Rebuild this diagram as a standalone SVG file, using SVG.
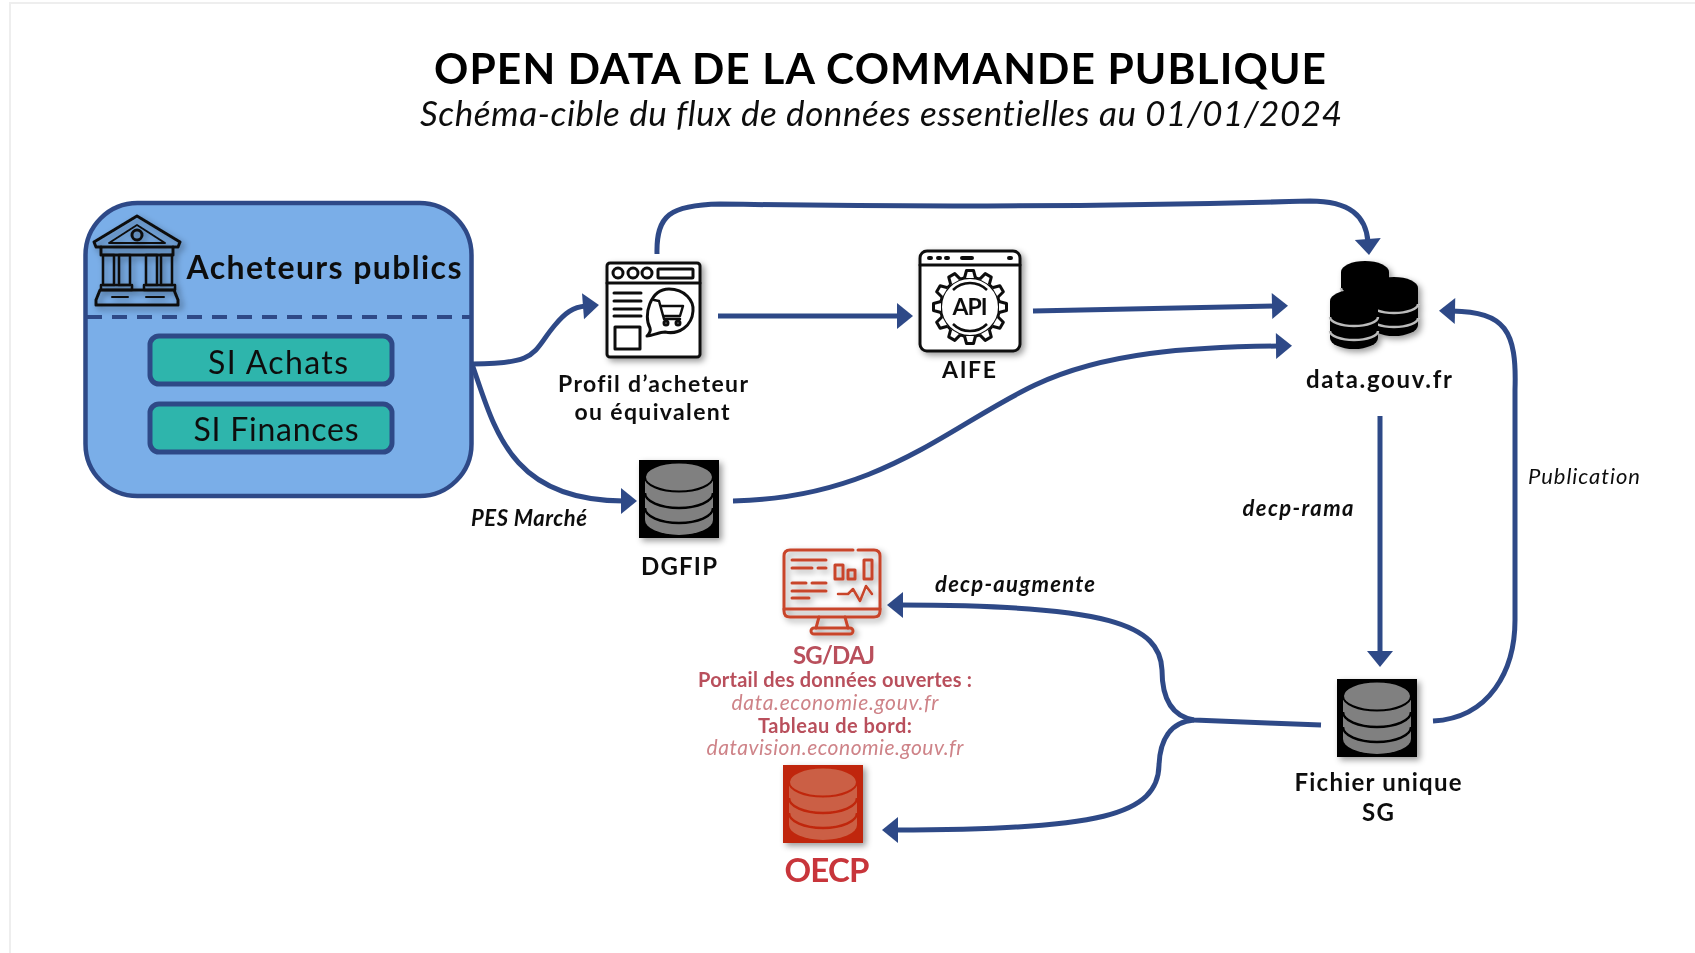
<svg xmlns="http://www.w3.org/2000/svg" width="1695" height="953" viewBox="0 0 1695 953">
<style>
text{font-family:"Lato","Liberation Sans",sans-serif;fill:#111;text-anchor:middle;font-variant-ligatures:none}
.b{font-weight:700}.i{font-style:italic}
.conn{fill:none;stroke:#2F4A87;stroke-width:5}
.ico{fill:none;stroke:#111;stroke-width:3;stroke-linejoin:round;stroke-linecap:round}
.red{fill:none;stroke:#C8452C;stroke-width:3;stroke-linejoin:round;stroke-linecap:round}
.si{fill:#2FB5AC;stroke:#2F4A87;stroke-width:5}
.rd{fill:#B9505C}.rl{fill:#CE8388}
</style>
<defs>
<marker id="arr" markerUnits="userSpaceOnUse" markerWidth="30" markerHeight="30" refX="3" refY="15" orient="auto" overflow="visible"><path d="M0 2L16 15L0 28Z" fill="#2F4A87"/></marker>
<filter id="sh" x="-20%" y="-20%" width="150%" height="150%"><feDropShadow dx="3" dy="3" stdDeviation="3" flood-color="#000" flood-opacity=".4"/></filter>
<filter id="soft" filterUnits="userSpaceOnUse" x="0" y="0" width="1695" height="953"><feGaussianBlur stdDeviation=".55"/></filter>
<symbol id="db" viewBox="0 0 80 78" width="80" height="78" overflow="visible">
<rect width="80" height="78" style="fill:var(--bg)"/>
<path d="M6 17V60A34 15 0 0 0 74 60V17Z" style="fill:var(--fg)"/>
<ellipse cx="40" cy="17" rx="34" ry="14.500" style="fill:var(--fg);stroke:var(--bg)" stroke-width="2"/>
<path d="M6 33A34 15 0 0 0 74 33M6 48A34 15 0 0 0 74 48" fill="none" style="stroke:var(--bg)" stroke-width="2.500"/>
</symbol>
<symbol id="cyl" viewBox="0 0 50 60" width="50" height="60" overflow="visible">
<path d="M1 11V48A24 11 0 0 0 49 48V11Z" fill="#000"/>
<ellipse cx="25" cy="11" rx="24" ry="11" fill="#000"/>
<path d="M1 27A24 9 0 0 0 49 27M1 41A24 9 0 0 0 49 41" fill="none" stroke="#bbb" stroke-width="2.500"/>
</symbol>
<path id="tooth" d="M-5.500 -29L-3.500 -36.500H3.500L5.500 -29" fill="#fff" stroke="#111" stroke-width="3" stroke-linejoin="round"/>
</defs>
<rect width="1695" height="953" fill="#fff"/>
<g filter="url(#soft)">
<path d="M10 953V3H1695" fill="none" stroke="#eee" stroke-width="2"/>

<g id="title">
<text class="b" x="880" y="84" font-size="42.500" style="fill:#000" textLength="892">OPEN DATA DE LA COMMANDE PUBLIQUE</text>
<text class="i" x="881" y="126" font-size="35" textLength="922">Schéma-cible du flux de données essentielles au 01/01/2024</text>
</g>

<g id="connectors">
<path class="conn" marker-end="url(#arr)" d="M472 364C540 364 532 352 555 325C565 313 573 307 586 306"/>
<path class="conn" marker-end="url(#arr)" d="M472 364C495 430 510 501 624 501"/>
<path class="conn" marker-end="url(#arr)" d="M718 316H900"/>
<path class="conn" marker-end="url(#arr)" d="M1033 311L1275 306"/>
<path class="conn" marker-end="url(#arr)" d="M733 501C880 498 950 425 1035 385C1105 352 1190 347 1279 346"/>
<path class="conn" marker-end="url(#arr)" d="M657 254C656 215 670 205 720 204C900 207 1100 207 1310 201C1350 201 1366 216 1368 242"/>
<path class="conn" marker-end="url(#arr)" d="M1380 416V654"/>
<path class="conn" marker-end="url(#arr)" d="M1433 721C1490 718 1515 670 1515 620V390C1517 330 1505 312 1452 311"/>
<path class="conn" marker-end="url(#arr)" d="M1321 725L1194 720C1170 716 1162 695 1162 670C1160 625 1110 605 900 605"/>
<path class="conn" marker-end="url(#arr)" d="M1194 720C1170 722 1160 740 1159 765C1158 815 1100 830 895 830"/>
</g>

<g id="acheteurs">
<rect x="85.500" y="203" width="386" height="293" rx="52" fill="#7AAEE8" stroke="#2F4A87" stroke-width="4.500"/>
<path d="M87 317H470" stroke="#2F4A87" stroke-width="4" stroke-dasharray="15 10" fill="none"/>
<g class="ico" filter="url(#sh)">
<path d="M137 216L94 242L96 247H178L180 242Z"/>
<path d="M137 225L109 243H165Z" stroke-width="2"/>
<circle cx="137" cy="235" r="5"/>
<path d="M101 247V255H173V247"/>
<path d="M103 255H114V285H103ZM119 255H130V285H119ZM146 255H157V285H146ZM161 255H172V285H161Z" stroke-width="2.500"/>
<path d="M101 285H132V290H101ZM144 285H175V290H144Z" stroke-width="2.500"/>
<path d="M100 290H174L178 300V305H96V300Z"/>
<path d="M112 297H128M146 297H164" stroke-width="2"/>
</g>
<text class="b" x="324" y="279" font-size="32" textLength="275">Acheteurs publics</text>
</g>
<g id="si-achats">
<rect class="si" x="150" y="336" width="242" height="48" rx="9"/>
<text x="278" y="374" font-size="32" textLength="140">SI Achats</text>
</g>
<g id="si-finances">
<rect class="si" x="150" y="404" width="242" height="48" rx="9"/>
<text x="276" y="441" font-size="32" textLength="165">SI Finances</text>
</g>

<g id="profil">
<g class="ico" filter="url(#sh)">
<rect x="607" y="263" width="93" height="94" rx="3" fill="#fff"/>
<path d="M607 283H700"/>
<circle cx="618" cy="273" r="5"/><circle cx="633" cy="273" r="5"/><circle cx="647" cy="273" r="5"/>
<rect x="658" y="269" width="35" height="9" rx="1"/>
<path d="M614 293H641M614 301H641M614 309H641M614 316H641"/>
<rect x="615" y="327" width="25" height="22"/>
<path d="M647 336C650 333 651 331 650 328C643 316 650 289 669 289C685 289 694 301 693 311C692 326 679 335 665 332C659 332 652 336 647 336Z"/>
<path d="M654 300L659 301L664 319H680M661 306H683L680 316H664" stroke-width="2.500"/>
<circle cx="666" cy="323" r="2"/><circle cx="678" cy="323" r="2"/>
</g>
<text class="b" x="653" y="392" font-size="23" textLength="190">Profil d’acheteur</text>
<text class="b" x="652" y="420" font-size="23" textLength="155">ou équivalent</text>
</g>

<g id="aife">
<g class="ico" filter="url(#sh)">
<rect x="920" y="251" width="100" height="100" rx="7" fill="#fff"/>
<path d="M920 265H1020"/>
<path d="M929 258H931M938 258H940M946 258H948M962 258H972M1009 258H1011" stroke-width="4"/>
</g>
<g transform="translate(970 307)">
<circle r="29.500" fill="#fff" stroke="#111" stroke-width="3"/>
<use href="#tooth"/>
<use href="#tooth" transform="rotate(30)"/><use href="#tooth" transform="rotate(60)"/><use href="#tooth" transform="rotate(90)"/>
<use href="#tooth" transform="rotate(120)"/><use href="#tooth" transform="rotate(150)"/><use href="#tooth" transform="rotate(180)"/>
<use href="#tooth" transform="rotate(210)"/><use href="#tooth" transform="rotate(240)"/><use href="#tooth" transform="rotate(270)"/>
<use href="#tooth" transform="rotate(300)"/><use href="#tooth" transform="rotate(330)"/>
<path d="M-17 -17A24 24 0 0 1 17 -17M-17 17A24 24 0 0 0 17 17" fill="none" stroke="#111" stroke-width="2.500"/>
</g>
<text class="b" x="970" y="315" font-size="23" textLength="35">API</text>
<text class="b" x="969" y="378" font-size="23" textLength="54">AIFE</text>
</g>

<g id="datagouv">
<g filter="url(#sh)">
<use href="#cyl" x="1340" y="261"/>
<use href="#cyl" x="1369" y="277"/>
<use href="#cyl" x="1329" y="290"/>
</g>
<text class="b" x="1379" y="388" font-size="24" textLength="146">data.gouv.fr</text>
</g>

<g id="dgfip" style="--bg:#000;--fg:#808080">
<use href="#db" x="639" y="460" filter="url(#sh)"/>
<text class="b" x="679" y="575" font-size="24" textLength="76">DGFIP</text>
</g>

<g id="fichier" style="--bg:#000;--fg:#808080">
<use href="#db" x="1337" y="679" filter="url(#sh)"/>
<text class="b" x="1378" y="791" font-size="24" textLength="167">Fichier unique</text>
<text class="b" x="1378" y="821" font-size="24" textLength="32">SG</text>
</g>

<g id="sgdaj">
<g class="red" filter="url(#sh)">
<path d="M853 550H790Q784 550 784 556V611Q784 617 790 617H874Q880 617 880 611V556Q880 550 874 550H858"/>
<path d="M784 609H880"/>
<path d="M819 617L816 628M845 617L848 628"/>
<rect x="811" y="628" width="42" height="6" rx="3"/>
<path d="M792 560H826M792 568H812M818 568H826M792 583H806M812 583H826M792 591H826M792 598H809"/>
<path d="M835 565H843V579H835ZM848 570H855V579H848ZM864 560H872V579H864Z"/>
<path d="M838 594H848L853 589L860 601L866 586L872 594" stroke-width="2.500"/>
</g>
<text class="b rd" x="834" y="664" font-size="24" textLength="82">SG/DAJ</text>
<text class="b rd" x="835" y="687" font-size="20" textLength="274">Portail des données ouvertes :</text>
<text class="i rl" x="835" y="710" font-size="21" textLength="207">data.economie.gouv.fr</text>
<text class="b rd" x="835" y="733" font-size="20" textLength="154">Tableau de bord:</text>
<text class="i rl" x="835" y="755" font-size="21" textLength="257">datavision.economie.gouv.fr</text>
</g>

<g id="oecp" style="--bg:#C0280A;--fg:#CB5F45">
<use href="#db" x="783" y="765" filter="url(#sh)"/>
<text class="b" x="827" y="882" font-size="33" style="fill:#C8353A" textLength="85">OECP</text>
</g>

<g id="labels">
<text class="i" x="529" y="526" font-size="22" font-weight="700" textLength="116">PES Marché</text>
<text class="i" x="1298" y="516" font-size="22" font-weight="700" textLength="111">decp-rama</text>
<text class="i" x="1584" y="484" font-size="22" textLength="112">Publication</text>
<text class="i" x="1015" y="592" font-size="22" font-weight="700" textLength="160">decp-augmente</text>
</g>
</g>
</svg>
